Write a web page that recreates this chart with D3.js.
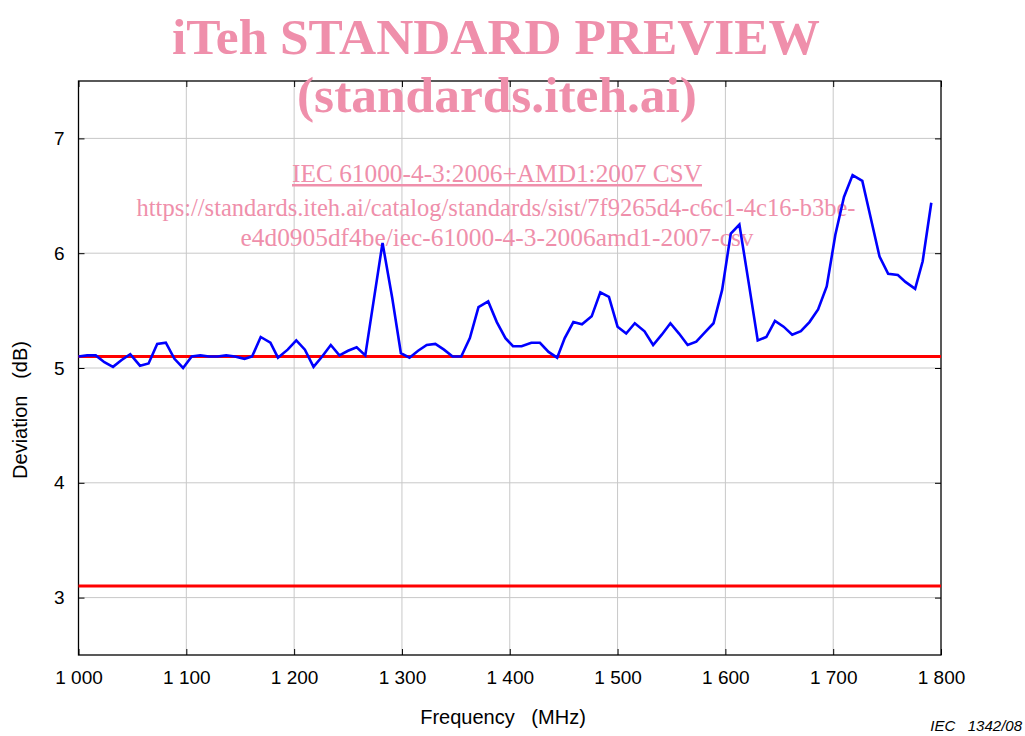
<!DOCTYPE html>
<html>
<head>
<meta charset="utf-8">
<script src="https://cdn.jsdelivr.net/npm/d3@7"></script>
<style>
  body { margin: 0; background: #fff; }
  svg text { font-family: "Liberation Sans", Arial, sans-serif; }
</style>
</head>
<body>
<div id="chart"></div>
<script>
// measured curve
var freq = [1000,1008,1016,1024,1032,1040,1048,1057,1065,1073,1081,1089,1097,1105,1113,1121,1129,1137,1145,1154,
    1161,1169,1178,1185,1194,1202,1210,1218,1226,1234,1242,1250,1258,1266,1274,1282,1291,1299,1307,1315,
    1323,1331,1339,1347,1355,1363,1371,1380,1388,1396,1403,1411,1420,1428,1436,1444,1451,1459,1467,1476,
    1484,1492,1500,1508,1516,1525,1533,1541,1549,1557,1565,1573,1581,1589,1597,1605,1613,1622,1630,1638,
    1646,1654,1662,1670,1678,1686,1694,1702,1710,1718,1727,1735,1743,1751,1760,1767,1776,1783,1791];
var deviation = [5.10,5.11,5.11,5.05,5.01,5.07,5.12,5.02,5.04,5.21,5.22,5.08,5.00,5.10,5.11,5.10,5.10,5.11,5.10,5.08,
    5.10,5.27,5.22,5.09,5.16,5.24,5.16,5.01,5.10,5.20,5.11,5.15,5.18,5.11,5.60,6.09,5.61,5.13,5.09,5.15,
    5.20,5.21,5.16,5.10,5.10,5.26,5.53,5.58,5.40,5.26,5.19,5.19,5.22,5.22,5.14,5.09,5.26,5.40,5.38,5.45,
    5.66,5.62,5.36,5.30,5.39,5.32,5.20,5.29,5.39,5.30,5.20,5.23,5.31,5.39,5.68,6.17,6.25,5.72,5.24,5.27,
    5.41,5.36,5.29,5.32,5.40,5.51,5.71,6.16,6.49,6.68,6.63,6.30,5.97,5.82,5.81,5.75,5.69,5.93,6.44];
var limits = [5.1, 3.1];
var xTicks = [1000,1100,1200,1300,1400,1500,1600,1700,1800];
var yTicks = [3,4,5,6,7];

(function() {
var width = 1025, height = 736;
var mLeft = 78.5, mRight = 941, mTop = 81, mBottom = 655;

var svg = d3.select("#chart").append("svg")
    .attr("width", width)
    .attr("height", height);

var x = d3.scaleLinear().domain([1000, 1800]).range([mLeft, mRight]);
var y = d3.scaleLinear().domain([2.5, 7.5]).range([mBottom, mTop]);

var fmt = d3.formatLocale({decimal: ".", thousands: " ", grouping: [3], currency: ["", ""]}).format(",d");

// grid
svg.append("g").selectAll("line").data(xTicks.slice(1, -1)).enter().append("line")
    .attr("x1", function(d){ return x(d); }).attr("x2", function(d){ return x(d); })
    .attr("y1", mTop).attr("y2", mBottom)
    .attr("stroke", "#c8c8c8").attr("stroke-width", 1);
svg.append("g").selectAll("line").data(yTicks).enter().append("line")
    .attr("x1", mLeft).attr("x2", mRight)
    .attr("y1", function(d){ return y(d); }).attr("y2", function(d){ return y(d); })
    .attr("stroke", "#c8c8c8").attr("stroke-width", 1);

// axes with inward ticks
var tk = 6;
svg.append("g").attr("transform", "translate(0," + mBottom + ")")
    .call(d3.axisBottom(x).tickValues(xTicks).tickSizeInner(-tk).tickSizeOuter(0).tickPadding(16).tickFormat(fmt))
    .call(function(g){ g.select(".domain").remove(); })
    .selectAll("text").attr("font-size", "19px").attr("fill", "#000")
    .attr("font-family", "Liberation Sans, Arial, sans-serif");
svg.append("g").attr("transform", "translate(0," + mTop + ")")
    .call(d3.axisTop(x).tickValues(xTicks).tickSizeInner(-tk).tickSizeOuter(0).tickFormat(""))
    .call(function(g){ g.select(".domain").remove(); });
svg.append("g").attr("transform", "translate(" + mLeft + ",0)")
    .call(d3.axisLeft(y).tickValues(yTicks).tickSizeInner(-tk).tickSizeOuter(0).tickPadding(14).tickFormat(d3.format("d")))
    .call(function(g){ g.select(".domain").remove(); })
    .selectAll("text").attr("font-size", "19px").attr("fill", "#000")
    .attr("font-family", "Liberation Sans, Arial, sans-serif");
svg.append("g").attr("transform", "translate(" + mRight + ",0)")
    .call(d3.axisRight(y).tickValues(yTicks).tickSizeInner(-tk).tickSizeOuter(0).tickFormat(""))
    .call(function(g){ g.select(".domain").remove(); });

// frame
svg.append("rect")
    .attr("x", mLeft).attr("y", mTop)
    .attr("width", mRight - mLeft).attr("height", mBottom - mTop)
    .attr("fill", "none").attr("stroke", "#000").attr("stroke-width", 1.3);

// watermark
var pink = "#ef8fab";
var wm = svg.append("g").attr("fill", pink);
wm.append("text").attr("x", 496).attr("y", 54).attr("text-anchor", "middle")
    .style("font-family", "Liberation Serif, serif").attr("font-weight", "bold").attr("font-size", "51px")
    .attr("textLength", 648).attr("lengthAdjust", "spacingAndGlyphs")
    .text("iTeh STANDARD PREVIEW");
wm.append("text").attr("x", 497).attr("y", 112).attr("text-anchor", "middle")
    .style("font-family", "Liberation Serif, serif").attr("font-weight", "bold").attr("font-size", "51px")
    .attr("textLength", 400).attr("lengthAdjust", "spacingAndGlyphs")
    .text("(standards.iteh.ai)");
wm.append("text").attr("x", 497).attr("y", 182).attr("text-anchor", "middle")
    .style("font-family", "Liberation Serif, serif").attr("font-size", "25px")
    .attr("text-decoration", "underline")
    .attr("textLength", 410).attr("lengthAdjust", "spacingAndGlyphs")
    .text("IEC 61000-4-3:2006+AMD1:2007 CSV");
wm.append("text").attr("x", 496).attr("y", 216).attr("text-anchor", "middle")
    .style("font-family", "Liberation Serif, serif").attr("font-size", "25px")
    .attr("textLength", 719).attr("lengthAdjust", "spacingAndGlyphs")
    .text("https://standards.iteh.ai/catalog/standards/sist/7f9265d4-c6c1-4c16-b3be-");
wm.append("text").attr("x", 497).attr("y", 246).attr("text-anchor", "middle")
    .style("font-family", "Liberation Serif, serif").attr("font-size", "25px")
    .attr("textLength", 513).attr("lengthAdjust", "spacingAndGlyphs")
    .text("e4d0905df4be/iec-61000-4-3-2006amd1-2007-csv");

// limit lines
svg.append("g").selectAll("line").data(limits).enter().append("line")
    .attr("x1", mLeft).attr("x2", mRight)
    .attr("y1", function(d){ return y(d); }).attr("y2", function(d){ return y(d); })
    .attr("stroke", "#ff0000").attr("stroke-width", 3);

// curve
var pts = freq.map(function(f, i){ return [f, deviation[i]]; });
var line = d3.line().x(function(d){ return x(d[0]); }).y(function(d){ return y(d[1]); });
svg.append("path").datum(pts)
    .attr("d", line)
    .attr("fill", "none").attr("stroke", "#0000ff").attr("stroke-width", 2.6)
    .attr("stroke-linejoin", "miter");

// labels
svg.append("text").attr("x", 503).attr("y", 724).attr("text-anchor", "middle")
    .attr("font-size", "20px").attr("xml:space", "preserve")
    .text("Frequency   (MHz)");
svg.append("text").attr("transform", "translate(27,410) rotate(-90)").attr("text-anchor", "middle")
    .attr("font-size", "20px").attr("xml:space", "preserve")
    .text("Deviation   (dB)");
svg.append("text").attr("x", 1022).attr("y", 731).attr("text-anchor", "end")
    .attr("font-size", "15px").attr("font-style", "italic").attr("xml:space", "preserve")
    .text("IEC   1342/08");
})();
</script>
</body>
</html>
